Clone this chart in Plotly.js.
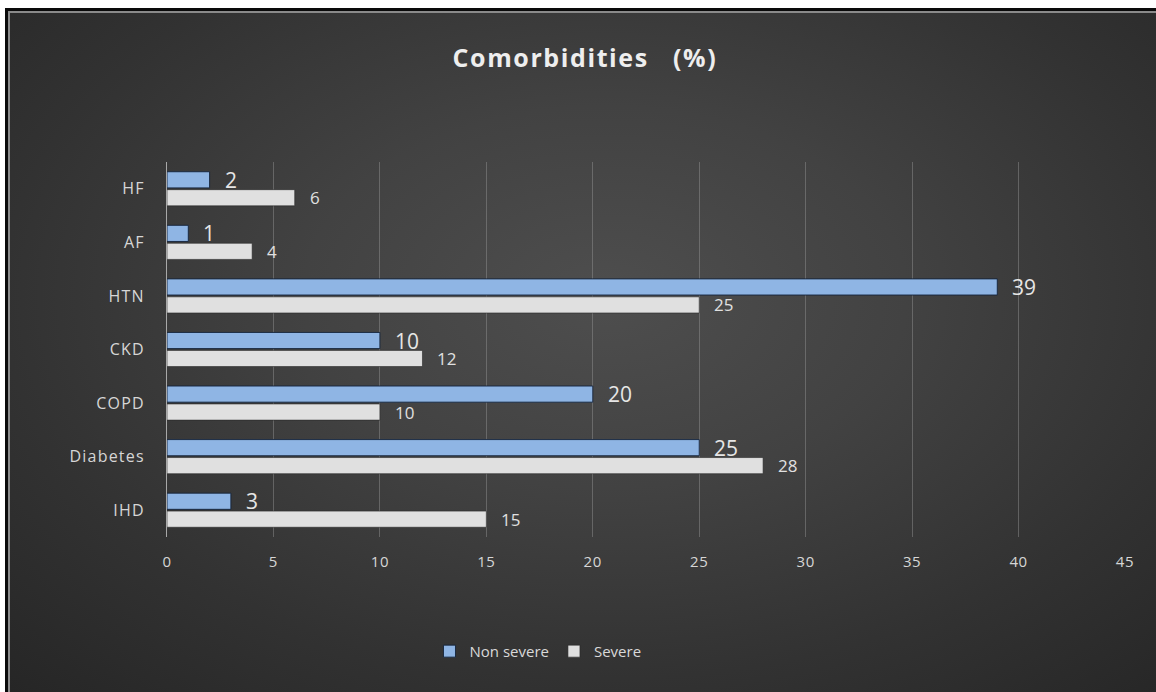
<!DOCTYPE html>
<html>
<head>
<meta charset="utf-8">
<script src="https://cdn.plot.ly/plotly-3.0.1.min.js"></script>
<style>
  html, body { margin: 0; padding: 0; background: #ffffff; width: 1156px; height: 692px; overflow: hidden; }
  #bg {
    position: absolute; left: 5px; top: 8px; width: 1151px; height: 684px;
    box-sizing: border-box;
    border-left: 3px solid #0a0a0a; border-top: 3px solid #0a0a0a;
    box-shadow: inset 2px 2px 0 #8a8a8a;
    background: radial-gradient(ellipse 75% 80% at 52% 42%, #4e4e4e 0%, #424242 35%, #323232 70%, #262626 100%);
  }
  #chart { position: absolute; left: 0; top: 0; width: 1156px; height: 692px; }
  #chart .gtitle { letter-spacing: 1.6px; }
  #chart .ytick text { letter-spacing: 1.2px; }
  #chart .xtick text { letter-spacing: 0.6px; }
</style>
</head>
<body>
<div id="bg"></div>
<div id="chart"></div>
<script>
const categories = ["IHD", "Diabetes", "COPD", "CKD", "HTN", "AF", "HF"];
const nonSevere = [3, 25, 20, 10, 39, 1, 2];
const severe = [15, 28, 10, 12, 25, 4, 6];
const xTicks = [0, 5, 10, 15, 20, 25, 30, 35, 40, 45];

const FONT = '"Open Sans", "Noto Sans", "DejaVu Sans", sans-serif';
const BLUE = '#8fb5e4';
const GREY = '#e0e0e0';

const traces = [
  {
    type: 'bar', orientation: 'h', name: 'Severe',
    x: severe, y: categories,
    marker: { color: GREY, line: { color: 'rgba(40,40,40,0.6)', width: 1 } },
    hoverinfo: 'x+y'
  },
  {
    type: 'bar', orientation: 'h', name: 'Non severe',
    x: nonSevere, y: categories,
    marker: { color: BLUE, line: { color: 'rgba(20,35,60,0.9)', width: 1 } },
    hoverinfo: 'x+y'
  }
];

// value labels, positioned through the axes from the data arrays
const annotations = [];
categories.forEach((c, i) => {
  annotations.push({
    x: nonSevere[i], y: c, xref: 'x', yref: 'y',
    text: String(nonSevere[i]), showarrow: false,
    xanchor: 'left', yanchor: 'middle', xshift: 13, yshift: 9,
    font: { family: FONT, size: 21, color: '#e6e6e6' }
  });
  annotations.push({
    x: severe[i], y: c, xref: 'x', yref: 'y',
    text: String(severe[i]), showarrow: false,
    xanchor: 'left', yanchor: 'middle', xshift: 13, yshift: -9,
    font: { family: FONT, size: 17, color: '#e0e0e0' }
  });
});

const layout = {
  width: 1156, height: 692,
  paper_bgcolor: 'rgba(0,0,0,0)',
  plot_bgcolor: 'rgba(0,0,0,0)',
  margin: { l: 167, r: 31, t: 162, b: 155 },
  font: { family: FONT, color: '#d9d9d9' },
  title: {
    text: 'Comorbidities\u00a0\u00a0\u00a0(%)',
    x: 0.506, xanchor: 'center', y: 0.916, yanchor: 'middle', yref: 'container',
    font: { family: FONT, size: 25, color: '#eeeeee', weight: 'bold' }
  },
  barmode: 'group',
  bargap: 0.33,
  bargroupgap: 0.1,
  xaxis: {
    range: [0, 45],
    tickvals: xTicks,
    ticktext: xTicks.map(String),
    showgrid: true, gridcolor: 'rgba(150,150,150,0.45)', gridwidth: 1,
    zeroline: false, showline: false,
    ticks: '', ticklabelstandoff: 14,
    tickfont: { family: FONT, size: 15, color: '#d6d6d6' },
    fixedrange: true
  },
  yaxis: {
    categoryorder: 'array', categoryarray: categories,
    showgrid: false, zeroline: false,
    showline: true, linecolor: '#a8a8a8', linewidth: 1,
    ticks: '', ticklabelstandoff: 18,
    tickfont: { family: FONT, size: 16, color: '#d6d6d6' },
    fixedrange: true
  },
  showlegend: true,
  legend: {
    orientation: 'h', traceorder: 'reversed',
    x: 0.274, xanchor: 'left', y: -0.305, yanchor: 'middle',
    bgcolor: 'rgba(0,0,0,0)',
    font: { family: FONT, size: 15, color: '#d9d9d9' },
    itemwidth: 30
  },
  annotations: annotations
};

Plotly.newPlot('chart', traces, layout, { displayModeBar: false, staticPlot: true });
</script>
</body>
</html>
